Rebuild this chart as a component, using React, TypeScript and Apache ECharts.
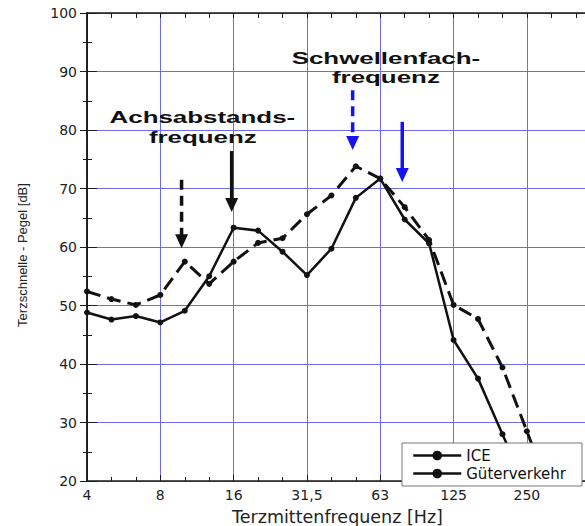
import React, { useEffect, useRef } from "react";
import * as echarts from "echarts";

// Third-octave centre frequencies (x index 0..19)
const categories = ["4", "5", "6,3", "8", "10", "12,5", "16", "20", "25", "31,5", "40", "50", "63", "80", "100", "125", "160", "200", "250", "315"];
const labelEvery = 3;

const iceValues = [48.8, 47.6, 48.2, 47.1, 49.1, 55.0, 63.3, 62.8, 59.2, 55.2, 59.7, 68.4, 71.7, 64.7, 60.6, 44.1, 37.5, 28.0, 18.5];
const gueterValues = [52.4, 51.1, 50.1, 51.8, 57.5, 53.7, 57.5, 60.7, 61.5, 65.6, 68.8, 73.8, 71.7, 66.8, 61.2, 50.1, 47.7, 39.4, 28.5, 17.5];

const seriesNames = ["ICE", "Güterverkehr"];

// Annotation arrows in data coordinates (x index, dB from, dB tip)
const arrowX = [3.87, 5.92, 10.87, 12.9];
const arrowFrom = [71.5, 76.4, 86.8, 81.4];
const arrowTo = [59.8, 66.0, 76.6, 71.1];
const arrowColor = ["#111111", "#111111", "#1414f0", "#1414f0"];
const arrowDashed = [true, false, true, false];

// Annotation texts (x index, dB of line centre)
const noteTexts = ["Achsabstands-", "frequenz", "Schwellenfach-", "frequenz"];
const noteX = [4.72, 4.74, 12.23, 12.23];
const noteY = [82.1, 78.7, 92.2, 88.9];

const gridBlue = "#6c6ce8";
const ink = "#1a1a1a";

export default function App() {
  const ref = useRef<HTMLDivElement>(null);

  useEffect(() => {
    if (!ref.current) return;
    const chart = echarts.init(ref.current, null, { renderer: "svg" });

    const option: any = {
      animation: false,
      backgroundColor: "#ffffff",
      grid: { left: 87, right: -3, top: 13, bottom: 45, outerBoundsMode: "none" },
      legend: {
        orient: "vertical",
        left: 402,
        top: 443,
        backgroundColor: "#ffffff",
        borderColor: "#777777",
        borderWidth: 1,
        borderRadius: 0,
        padding: [5, 16, 5, 10],
        itemGap: 3,
        itemWidth: 48,
        itemHeight: 12,
        textStyle: { fontFamily: "DejaVu Sans", fontSize: 15, color: "#111" },
        data: seriesNames.map((n) => ({ name: n, lineStyle: { type: "solid", width: 2.5 } })),
      },
      xAxis: [
        {
          type: "value",
          min: 0,
          max: 20.5,
          interval: labelEvery,
          axisLine: { show: true, lineStyle: { color: ink, width: 1.5 } },
          axisTick: { show: true, inside: true, length: 6, lineStyle: { color: ink } },
          minorTick: { show: true, splitNumber: 3, length: 4, lineStyle: { color: ink } },
          splitLine: { show: true, lineStyle: { color: gridBlue, width: 1 } },
          axisLabel: {
            formatter: (v: number) => (Number.isInteger(v) && v % labelEvery === 0 ? categories[v] ?? "" : ""),
            fontFamily: "DejaVu Sans",
            fontSize: 14,
            color: "#222",
            margin: 7,
            showMaxLabel: false,
          },
          name: "Terzmittenfrequenz [Hz]",
          nameLocation: "middle",
          nameGap: 27,
          nameTextStyle: { fontFamily: "DejaVu Sans", fontSize: 17.5, color: "#222" },
        },
        {
          type: "value",
          position: "top",
          min: 0,
          max: 20.5,
          interval: labelEvery,
          axisLine: { show: true, lineStyle: { color: ink, width: 1.5 } },
          axisTick: { show: true, inside: true, length: 5, lineStyle: { color: ink } },
          minorTick: { show: true, splitNumber: 3, length: 5, lineStyle: { color: ink } },
          splitLine: { show: false },
          axisLabel: { show: false },
        },
      ],
      yAxis: [
        {
          type: "value",
          min: 20,
          max: 100,
          interval: 10,
          axisLine: { show: true, lineStyle: { color: ink, width: 1.5 } },
          axisTick: { show: true, inside: true, length: 10, lineStyle: { color: ink } },
          minorTick: { show: true, splitNumber: 2, length: 5, lineStyle: { color: ink } },
          splitLine: { show: true, lineStyle: { color: gridBlue, width: 1 } },
          axisLabel: { fontFamily: "DejaVu Sans", fontSize: 14, color: "#222", margin: 10 },
          name: "Terzschnelle - Pegel [dB]",
          nameLocation: "middle",
          nameGap: 58,
          nameTextStyle: { fontFamily: "Liberation Sans", fontSize: 13, color: "#222", padding: [0, 16, 0, 0] },
        },
        {
          type: "value",
          position: "right",
          min: 20,
          max: 100,
          interval: 10,
          axisLine: { show: true, lineStyle: { color: ink, width: 1.5 } },
          axisTick: { show: true, inside: true, length: 7, lineStyle: { color: ink } },
          minorTick: { show: true, splitNumber: 2, length: 4, lineStyle: { color: ink } },
          splitLine: { show: false },
          axisLabel: { show: false },
        },
      ],
      series: [
        {
          name: seriesNames[0],
          type: "line",
          xAxisIndex: 0,
          yAxisIndex: 0,
          data: iceValues.map((v, i) => [i, v]),
          symbol: "circle",
          symbolSize: 6,
          lineStyle: { color: "#111", width: 2.5, type: "solid" },
          itemStyle: { color: "#111" },
          z: 3,
        },
        {
          name: seriesNames[1],
          type: "line",
          xAxisIndex: 0,
          yAxisIndex: 0,
          data: gueterValues.map((v, i) => [i, v]),
          symbol: "circle",
          symbolSize: 6,
          lineStyle: { color: "#111", width: 3, type: [14, 7] },
          itemStyle: { color: "#111" },
          z: 3,
        },
      ],
    };

    chart.setOption(option);

    const graphics: any[] = [];
    const finder = { xAxisIndex: 0, yAxisIndex: 0 };
    arrowX.forEach((x, i) => {
      const p0 = chart.convertToPixel(finder, [x, arrowFrom[i]]) as number[];
      const p1 = chart.convertToPixel(finder, [x, arrowTo[i]]) as number[];
      const px = p0[0];
      const headLen = 14;
      const headW = 6.5;
      graphics.push({
        type: "line",
        shape: { x1: px, y1: p0[1], x2: px, y2: p1[1] - headLen + 1 },
        style: { stroke: arrowColor[i], lineWidth: 3.5, lineDash: arrowDashed[i] ? [10, 6] : null },
        z: 20,
      });
      graphics.push({
        type: "polygon",
        shape: { points: [[px - headW, p1[1] - headLen], [px + headW, p1[1] - headLen], [px, p1[1]]] },
        style: { fill: arrowColor[i] },
        z: 20,
      });
    });
    noteTexts.forEach((t, i) => {
      const p = chart.convertToPixel(finder, [noteX[i], noteY[i]]) as number[];
      graphics.push({
        type: "text",
        x: p[0],
        y: p[1],
        scaleX: 1.62,
        style: {
          text: t,
          fill: "#111",
          fontFamily: "Liberation Sans",
          fontWeight: "bold",
          fontSize: 16,
          align: "center",
          verticalAlign: "middle",
        },
        z: 20,
      });
    });
    chart.setOption({ graphic: graphics });

    return () => chart.dispose();
  }, []);

  return (
    <div
      ref={ref}
      style={{ position: "fixed", left: 0, top: 0, width: 585, height: 526, background: "#fff" }}
    />
  );
}
